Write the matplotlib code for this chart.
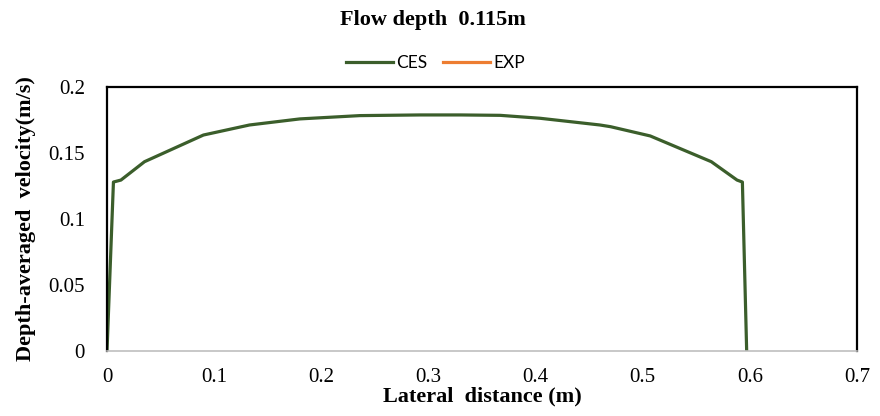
import numpy as np
from matplotlib import pyplot as plt

# CES lateral profile
lateral_ces = [0.0, 0.006, 0.013, 0.035, 0.09, 0.133, 0.18, 0.236, 0.292,
               0.33, 0.367, 0.404, 0.46, 0.47, 0.507, 0.564, 0.588, 0.593, 0.597]
velocity_ces = [0.0, 0.128, 0.1295, 0.1434, 0.1636, 0.1712, 0.1758, 0.1783, 0.1788,
                0.1788, 0.1785, 0.1763, 0.1712, 0.1699, 0.1629, 0.1434, 0.1295, 0.128, 0.0]

# EXP series is in the legend but has no visible points
lateral_exp = []
velocity_exp = []

x_ticks = [0, 0.1, 0.2, 0.3, 0.4, 0.5, 0.6, 0.7]
x_labels = ["0", "0.1", "0.2", "0.3", "0.4", "0.5", "0.6", "0.7"]
y_ticks = [0, 0.05, 0.1, 0.15, 0.2]
y_labels = ["0", "0.05", "0.1", "0.15", "0.2"]

serif = "Liberation Serif"

fig = plt.figure(figsize=(8.8, 4.16), dpi=100)
ax = fig.add_axes([0.1216, 0.156, 0.8523, 0.635])

ax.plot(lateral_ces, velocity_ces, color="#3B5E2B", lw=2.3, label="CES")
ax.plot(lateral_exp, velocity_exp, color="#ED7D31", lw=2.3, label="EXP")

ax.set_xlim(0, 0.7)
ax.set_ylim(0, 0.2)
ax.set_xticks(x_ticks)
ax.set_xticklabels(x_labels, fontfamily=serif, fontsize=15)
ax.set_yticks(y_ticks)
ax.set_yticklabels(y_labels, fontfamily=serif, fontsize=15)
ax.tick_params(axis="x", length=0, pad=12)
ax.tick_params(axis="y", length=0, pad=16)

for side in ["left", "top", "right"]:
    ax.spines[side].set_color("black")
    ax.spines[side].set_linewidth(1.6)
ax.spines["bottom"].set_color("#BFBFBF")
ax.spines["bottom"].set_linewidth(1.2)

ax.set_xlabel("Lateral  distance (m)", fontfamily=serif, fontweight="bold", fontsize=16)
ax.set_ylabel("Depth-averaged  velocity(m/s)", fontfamily=serif, fontweight="bold",
              fontsize=16)
ax.xaxis.set_label_coords(0.5, -0.135)
ax.yaxis.set_label_coords(-0.095, 0.5)

fig.text(0.492, 0.953, "Flow depth  0.115m", ha="center", va="center",
         fontfamily=serif, fontweight="bold", fontsize=16)

fig.legend(loc="center", bbox_to_anchor=(0.495, 0.848), ncol=2, frameon=False,
           prop={"family": "Lato", "size": 12.5}, handlelength=2.7,
           columnspacing=0.9, handletextpad=0.2)

fig.savefig("out.png", dpi=100)
